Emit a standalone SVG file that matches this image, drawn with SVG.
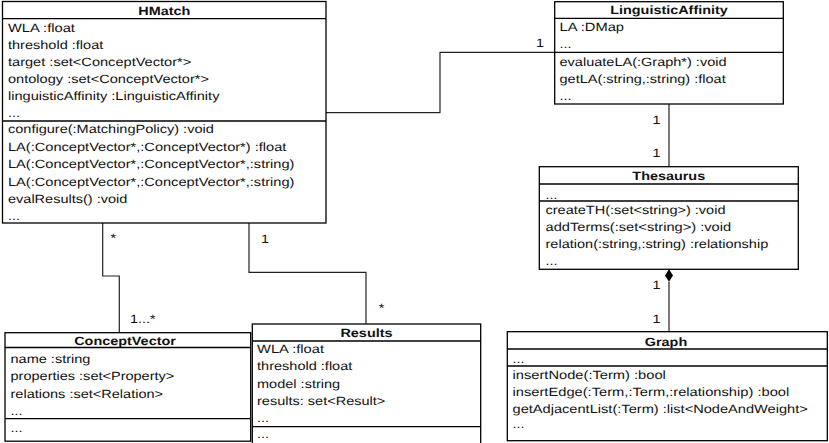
<svg xmlns="http://www.w3.org/2000/svg" width="829" height="443" viewBox="0 0 829 443">
<style>
.box{fill:#fff;stroke:#000;stroke-width:1.3}
.sep{stroke:#000;stroke-width:1.3}
.con{fill:none;stroke:#222;stroke-width:1.2}
text{font-family:"Liberation Sans",Arial,Helvetica,sans-serif;font-size:12px;fill:#111;text-rendering:geometricPrecision}
.ti{font-weight:bold;text-anchor:middle}
.m{text-anchor:middle}
</style>
<rect width="829" height="443" fill="#fff"/>
<g id="connectors">
<polyline class="con" points="326,112.7 440,112.7 440,52.3 554.7,52.3"/>
<line class="con" x1="669" y1="104" x2="669" y2="166.7"/>
<line class="con" x1="669" y1="281.7" x2="669" y2="331.7"/>
<polygon points="669,269.3 673,275.5 669,281.7 665,275.5" fill="#000"/>
<polyline class="con" points="102.7,223 102.7,276 119.3,276 119.3,332.7"/>
<polyline class="con" points="249,223 249,272.3 366,272.3 366,324"/>
<g transform="scale(1.2 1)">
<text class="m" x="450" y="47">1</text>
<text class="m" x="547.2" y="124">1</text>
<text class="m" x="547.2" y="157">1</text>
<text class="m" x="547.2" y="289">1</text>
<text class="m" x="547.2" y="323">1</text>
<text class="m" x="94.4" y="242">*</text>
<text x="108.3" y="322.5">1...*</text>
<text class="m" x="220.8" y="243">1</text>
<text class="m" x="318" y="312">*</text>
</g>
</g>
<g id="HMatch">
<rect class="box" x="2.5" y="1.5" width="323.5" height="221.5"/>
<line class="sep" x1="2.5" y1="18.7" x2="326" y2="18.7"/>
<line class="sep" x1="2.5" y1="121" x2="326" y2="121"/>
<g transform="scale(1.2 1)" lengthAdjust="spacingAndGlyphs">
<text class="ti" x="136.9" y="14.5">HMatch</text>
<text x="6.67" y="32" textLength="55.8" lengthAdjust="spacingAndGlyphs">WLA :float</text>
<text x="6.67" y="49" textLength="79.4" lengthAdjust="spacingAndGlyphs">threshold :float</text>
<text x="6.67" y="66" textLength="152.7" lengthAdjust="spacingAndGlyphs">target :set&lt;ConceptVector*&gt;</text>
<text x="6.67" y="83" textLength="167.5" lengthAdjust="spacingAndGlyphs">ontology :set&lt;ConceptVector*&gt;</text>
<text x="6.67" y="100" textLength="176.2" lengthAdjust="spacingAndGlyphs">linguisticAffinity :LinguisticAffinity</text>
<text x="6.67" y="116.5">...</text>
<text x="6.67" y="133" textLength="171.5" lengthAdjust="spacingAndGlyphs">configure(:MatchingPolicy) :void</text>
<text x="6.67" y="150.5" textLength="232" lengthAdjust="spacingAndGlyphs">LA(:ConceptVector*,:ConceptVector*) :float</text>
<text x="6.67" y="168" textLength="238.7" lengthAdjust="spacingAndGlyphs">LA(:ConceptVector*,:ConceptVector*,:string)</text>
<text x="6.67" y="185.5" textLength="238.7" lengthAdjust="spacingAndGlyphs">LA(:ConceptVector*,:ConceptVector*,:string)</text>
<text x="6.67" y="203" textLength="99.5" lengthAdjust="spacingAndGlyphs">evalResults() :void</text>
<text x="6.67" y="219.5">...</text>
</g>
</g>
<g id="LinguisticAffinity">
<rect class="box" x="554.7" y="1.7" width="228.6" height="102.3"/>
<line class="sep" x1="554.7" y1="18.3" x2="783.3" y2="18.3"/>
<line class="sep" x1="554.7" y1="52.3" x2="783.3" y2="52.3"/>
<g transform="scale(1.2 1)">
<text class="ti" x="557.5" y="14">LinguisticAffinity</text>
<text x="466.25" y="31" textLength="53.8" lengthAdjust="spacingAndGlyphs">LA :DMap</text>
<text x="466.25" y="48">...</text>
<text x="466.25" y="65.5" textLength="139.2" lengthAdjust="spacingAndGlyphs">evaluateLA(:Graph*) :void</text>
<text x="466.25" y="83" textLength="138.5" lengthAdjust="spacingAndGlyphs">getLA(:string,:string) :float</text>
<text x="466.25" y="99.5">...</text>
</g>
</g>
<g id="Thesaurus">
<rect class="box" x="539.3" y="166.7" width="259" height="102.6"/>
<line class="sep" x1="539.3" y1="184" x2="798.3" y2="184"/>
<line class="sep" x1="539.3" y1="201" x2="798.3" y2="201"/>
<g transform="scale(1.2 1)">
<text class="ti" x="557.3" y="179.5">Thesaurus</text>
<text x="454.6" y="198.5">...</text>
<text x="454.6" y="214" textLength="150" lengthAdjust="spacingAndGlyphs">createTH(:set&lt;string&gt;) :void</text>
<text x="454.6" y="231" textLength="154.7" lengthAdjust="spacingAndGlyphs">addTerms(:set&lt;string&gt;) :void</text>
<text x="454.6" y="248" textLength="185.6" lengthAdjust="spacingAndGlyphs">relation(:string,:string) :relationship</text>
<text x="454.6" y="264.5">...</text>
</g>
</g>
<g id="Graph">
<rect class="box" x="507.3" y="331.7" width="320" height="109"/>
<line class="sep" x1="507.3" y1="349" x2="827.3" y2="349"/>
<line class="sep" x1="507.3" y1="366" x2="827.3" y2="366"/>
<g transform="scale(1.2 1)">
<text class="ti" x="555" y="345.5">Graph</text>
<text x="427.1" y="363">...</text>
<text x="427.1" y="379" textLength="127.8" lengthAdjust="spacingAndGlyphs">insertNode(:Term) :bool</text>
<text x="427.1" y="396" textLength="230.6" lengthAdjust="spacingAndGlyphs">insertEdge(:Term,:Term,:relationship) :bool</text>
<text x="427.1" y="413" textLength="246.1" lengthAdjust="spacingAndGlyphs">getAdjacentList(:Term) :list&lt;NodeAndWeight&gt;</text>
<text x="427.1" y="428">...</text>
</g>
</g>
<g id="ConceptVector">
<rect class="box" x="5" y="332.7" width="245.7" height="108.5"/>
<line class="sep" x1="5" y1="347.5" x2="250.7" y2="347.5"/>
<line class="sep" x1="5" y1="418.7" x2="250.7" y2="418.7"/>
<g transform="scale(1.2 1)">
<text class="ti" x="104.2" y="344.5">ConceptVector</text>
<text x="8.75" y="362.5" textLength="66.6" lengthAdjust="spacingAndGlyphs">name :string</text>
<text x="8.75" y="380" textLength="136.5" lengthAdjust="spacingAndGlyphs">properties :set&lt;Property&gt;</text>
<text x="8.75" y="397.5" textLength="127.1" lengthAdjust="spacingAndGlyphs">relations :set&lt;Relation&gt;</text>
<text x="8.75" y="415">...</text>
<text x="8.75" y="431.5">...</text>
</g>
</g>
<g id="Results">
<rect class="box" x="252.3" y="324" width="228.4" height="121"/>
<line class="sep" x1="252.3" y1="341" x2="480.7" y2="341"/>
<line class="sep" x1="252.3" y1="426.7" x2="480.7" y2="426.7"/>
<g transform="scale(1.2 1)">
<text class="ti" x="305.4" y="337">Results</text>
<text x="214.2" y="352.5" textLength="55.8" lengthAdjust="spacingAndGlyphs">WLA :float</text>
<text x="214.2" y="370" textLength="79.4" lengthAdjust="spacingAndGlyphs">threshold :float</text>
<text x="214.2" y="387.5" textLength="69.3" lengthAdjust="spacingAndGlyphs">model :string</text>
<text x="214.2" y="405" textLength="106.9" lengthAdjust="spacingAndGlyphs">results: set&lt;Result&gt;</text>
<text x="214.2" y="421.5">...</text>
<text x="214.2" y="438">...</text>
</g>
</g>
</svg>
